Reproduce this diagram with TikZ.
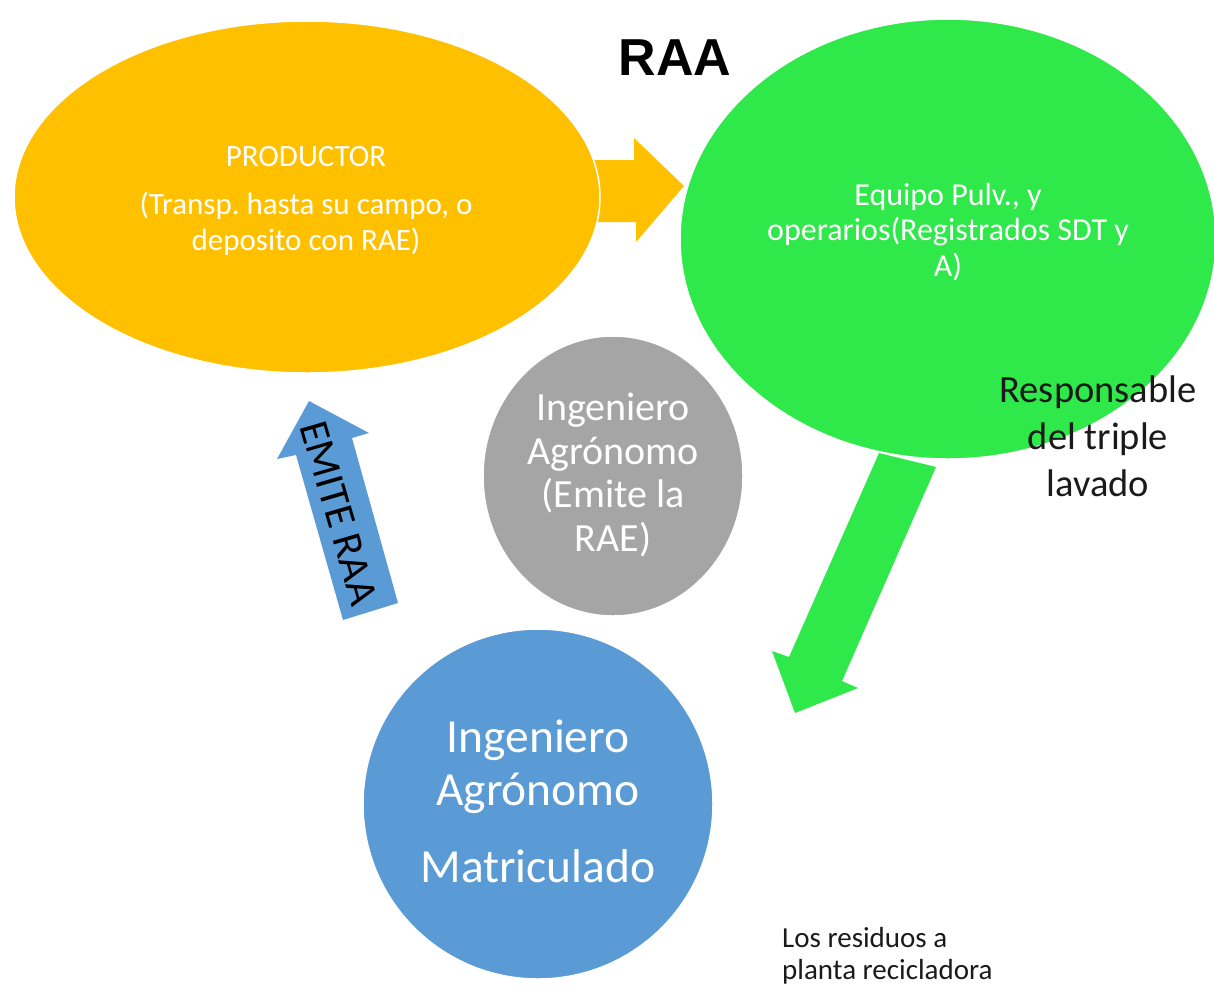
\documentclass[tikz,border=0pt]{standalone}
\usepackage{fontspec}
\setmainfont{Carlito}
\newfontfamily\titlefont{Liberation Sans}
\usetikzlibrary{shapes.geometric}
\frenchspacing
\definecolor{cOrange}{HTML}{FFC000}
\definecolor{cGreen}{HTML}{2FE84A}
\definecolor{cGray}{HTML}{A5A5A5}
\definecolor{cBlue}{HTML}{5B9BD5}
\definecolor{cText}{HTML}{1A1A1A}
\tikzset{
  blob/.style={ellipse, draw=white, line width=1.5pt, inner sep=0pt, text=white, align=center},
  lbl/.style={text=cText, align=center, inner sep=0pt}
}
\begin{document}
\begin{tikzpicture}[x=1pt,y=-1pt]
\useasboundingbox (0,0) rectangle (1214,986);
% block arrows behind the shapes
\fill[cOrange] (592,160) -- (634,160) -- (634,138) -- (684,186) -- (636,242) -- (636,222) -- (592,222) -- cycle;
\fill[cGreen] (879,453) -- (936,467) -- (842,681) -- (858,688) -- (795,713) -- (772,651) -- (789,657) -- cycle;
\fill[cBlue] (309,401) -- (369,433) -- (352,438) -- (398,603) -- (343,620) -- (296,455) -- (277,459) -- cycle;
\node[rotate=-73.8, font=\fontsize{42}{44}\selectfont, text=black, inner sep=0pt] (emite) at (339,513) {EMITE RAA};
% ellipses
\node[blob, fill=cOrange, minimum width=586pt, minimum height=352pt] (prod) at (307,197) {};
\node[blob, fill=cGreen, minimum width=536pt, minimum height=440pt] (equipo) at (948,239) {};
\node[blob, fill=cGray, minimum width=260pt, minimum height=280pt] (ing) at (613,476) {};
\node[blob, fill=cBlue, minimum width=350pt, minimum height=350pt] (ingm) at (538,804) {};
% texts
\node[text=white, inner sep=0pt, font=\fontsize{31}{36}\selectfont] (t1) at (306,157) {PRODUCTOR};
\node[text=white, inner sep=0pt, align=center, font=\fontsize{31}{36}\selectfont] (t2) at (306,224) {(Transp. hasta su campo, o\\deposito con RAE)};
\node[text=white, inner sep=0pt, align=center, font=\fontsize{32}{35.5}\selectfont] (t3) at (948,232) {Equipo Pulv., y\\operarios(Registrados SDT y\\A)};
\node[text=white, inner sep=0pt, align=center, font=\fontsize{40}{43.7}\selectfont] (t4) at (613,475) {Ingeniero\\Agrónomo\\(Emite la\\RAE)};
\node[text=white, inner sep=0pt, align=center, font=\fontsize{47.5}{53}\selectfont] (t5) at (538,767) {Ingeniero\\Agrónomo};
\node[text=white, inner sep=0pt, font=\fontsize{47.5}{53}\selectfont] (t6) at (538,866) {Matriculado};
\node[lbl, font=\fontsize{38.5}{47}\selectfont] (t7) at (1098,436) {Responsable\\del triple\\lavado};
\node[lbl, align=left, anchor=west, font=\fontsize{29}{32}\selectfont] (t8) at (782,956) {Los residuos a\\planta recicladora};
\node[inner sep=0pt, font=\titlefont\bfseries\fontsize{52}{60}\selectfont] (title) at (675,58) {RAA};
\end{tikzpicture}
\end{document}
